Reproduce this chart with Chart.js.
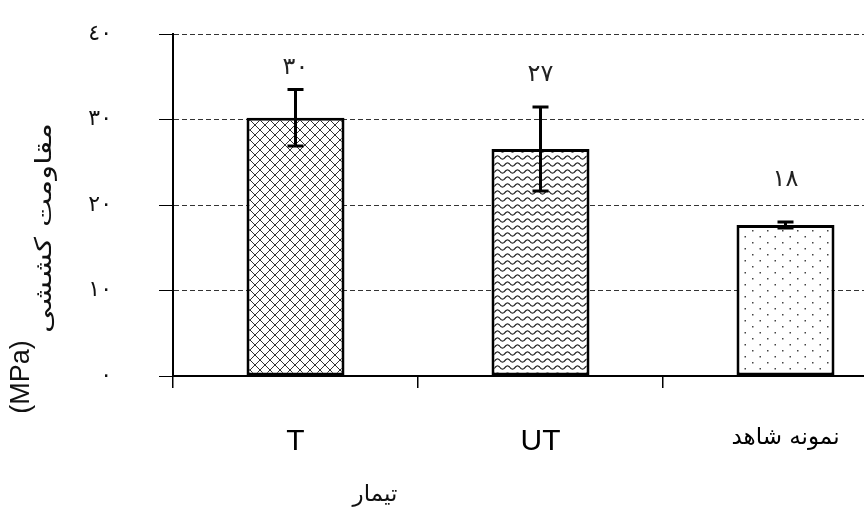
<!DOCTYPE html>
<html>
<head>
<meta charset="utf-8">
<script src="https://cdn.jsdelivr.net/npm/chart.js@4/dist/chart.umd.min.js"></script>
<style>
  html, body { margin: 0; padding: 0; background: #fff; overflow: hidden; }
</style>
</head>
<body>
<canvas id="chart" width="920" height="517"></canvas>
<script>
// data
const categories = ['T', 'UT', 'نمونه شاهد'];
const strength = [30.2, 26.55, 17.66];
const errors = [3.3, 4.9, 0.35];
const valueLabels = ['٣٠', '٢٧', '١٨'];
const valueLabelAt = [36.0, 35.2, 22.9];
const yTickLabels = ['٠', '١٠', '٢٠', '٣٠', '٤٠'];
const yTitle = 'مقاومت کششی';
const yUnit = '(MPa)';
const xTitle = 'تیمار';

const ctx = document.getElementById('chart').getContext('2d');

function makeTile(w, h, draw) {
    const c = document.createElement('canvas');
    c.width = w; c.height = h;
    const g = c.getContext('2d');
    g.fillStyle = '#fff';
    g.fillRect(0, 0, w, h);
    draw(g);
    return ctx.createPattern(c, 'repeat');
}

const crossHatch = makeTile(10, 10, g => {
    g.strokeStyle = '#333';
    g.lineWidth = 1;
    g.beginPath();
    g.moveTo(0, 0); g.lineTo(10, 10);
    g.moveTo(10, 0); g.lineTo(0, 10);
    g.stroke();
});

const waves = makeTile(10, 7, g => {
    g.strokeStyle = '#222';
    g.lineWidth = 1.2;
    g.beginPath();
    for (let x = 0; x <= 10; x += 0.5) {
        const y = 3.5 + 1.6 * Math.sin(x / 10 * Math.PI * 2);
        if (x === 0) g.moveTo(x, y); else g.lineTo(x, y);
    }
    g.stroke();
});

const dots = makeTile(15, 12, g => {
    g.fillStyle = '#444';
    g.fillRect(2, 2, 1.5, 1.5);
    g.fillRect(9.5, 8, 1.5, 1.5);
});

const errorBars = {
    id: 'errorBars',
    afterDatasetsDraw(chart) {
        const c = chart.ctx;
        const y = chart.scales.y;
        const meta = chart.getDatasetMeta(0);
        c.save();
        c.strokeStyle = '#000';
        c.lineWidth = 3;
        meta.data.forEach((bar, i) => {
            const top = y.getPixelForValue(strength[i] + errors[i]);
            const bot = y.getPixelForValue(strength[i] - errors[i]);
            c.beginPath();
            c.moveTo(bar.x, top); c.lineTo(bar.x, bot);
            c.moveTo(bar.x - 8, top); c.lineTo(bar.x + 8, top);
            c.moveTo(bar.x - 8, bot); c.lineTo(bar.x + 8, bot);
            c.stroke();
        });
        c.fillStyle = '#222';
        c.font = '24px "DejaVu Sans"';
        c.textAlign = 'center';
        c.textBaseline = 'middle';
        meta.data.forEach((bar, i) => {
            c.fillText(valueLabels[i], bar.x, y.getPixelForValue(valueLabelAt[i]));
        });
        c.restore();
    }
};

const titles = {
    id: 'titles',
    afterDraw(chart) {
        const c = chart.ctx;
        c.save();
        c.fillStyle = '#111';
        c.textAlign = 'center';
        c.textBaseline = 'middle';
        c.font = '23px "DejaVu Sans"';
        c.fillText(xTitle, 375, 495);

        c.save();
        c.translate(22, 377);
        c.rotate(-Math.PI / 2);
        c.font = '27px "Liberation Sans"';
        c.fillText(yUnit, 0, 0);
        c.restore();
        c.save();
        c.translate(45, 228);
        c.rotate(-Math.PI / 2);
        c.scale(1.35, 1);
        c.font = '23px "DejaVu Sans"';
        c.fillText(yTitle, 0, 0);
        c.restore();
        c.restore();
    }
};

new Chart(ctx, {
    type: 'bar',
    data: {
        labels: categories,
        datasets: [{
            data: strength,
            backgroundColor: [crossHatch, waves, dots],
            borderColor: '#000',
            borderWidth: 3,
            borderSkipped: false,
            categoryPercentage: 1,
            barPercentage: 0.4
        }]
    },
    options: {
        responsive: false,
        animation: false,
        layout: {padding: {top: 34, right: 12, left: 0, bottom: 0}},
        plugins: {legend: {display: false}, tooltip: {enabled: false}},
        scales: {
            x: {
                grid: {drawOnChartArea: false, tickLength: 12, color: '#000', lineWidth: 1.5},
                border: {color: '#000', width: 2},
                ticks: {
                    color: '#000',
                    padding: 36,
                    maxRotation: 0,
                    font: c => c.index === 2
                        ? {family: '"DejaVu Sans"', size: 23}
                        : {family: '"Liberation Sans"', size: 30}
                },
                afterFit: s => { s.height = 141; }
            },
            y: {
                min: 0,
                max: 40,
                grid: {
                    color: c => c.tick && c.tick.value === 0 ? 'rgba(0,0,0,0)' : '#333',
                    tickColor: '#000',
                    tickLength: 14,
                    tickBorderDash: [],
                    lineWidth: 1
                },
                border: {color: '#000', width: 2, dash: [5, 3]},
                ticks: {
                    stepSize: 10,
                    color: '#111',
                    padding: 47,
                    font: {family: '"DejaVu Sans"', size: 22},
                    callback: (v) => yTickLabels[v / 10]
                },
                afterFit: s => {
                    s.width = 173;
                    s.paddingTop = 0;
                    s.paddingBottom = 0;
                }
            }
        }
    },
    plugins: [errorBars, titles]
});
</script>
</body>
</html>
